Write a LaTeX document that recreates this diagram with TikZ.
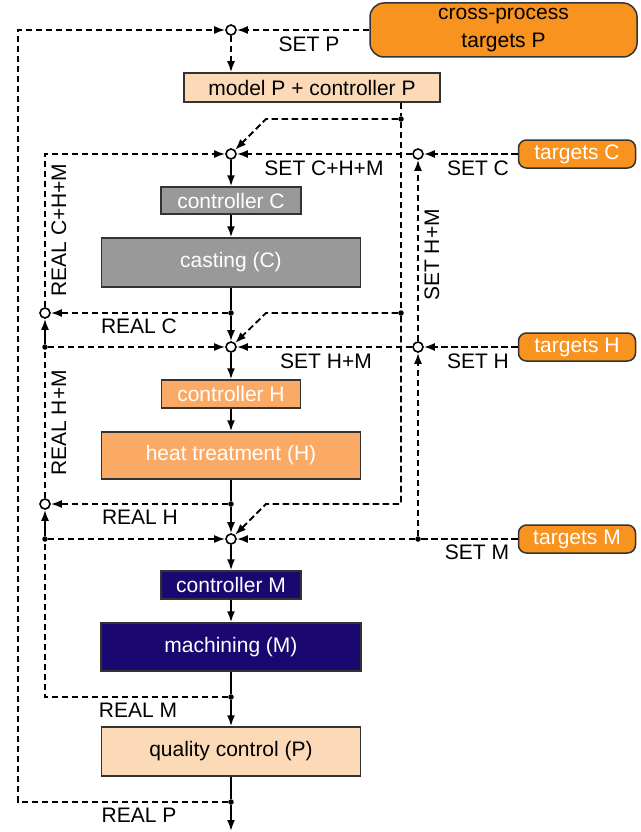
\documentclass[tikz,border=0pt]{standalone}
\usepackage{fontspec}
\setmainfont{Liberation Sans}
\usetikzlibrary{arrows.meta}
\definecolor{tgtorange}{HTML}{F7931E}
\definecolor{peach}{HTML}{FCDAB8}
\definecolor{castgray}{HTML}{999999}
\definecolor{heatorange}{HTML}{FBAA66}
\definecolor{machnavy}{HTML}{1A0870}
\definecolor{edge}{HTML}{333333}

\begin{document}
\begin{tikzpicture}[x=1pt, y=-1pt,
  font=\fontsize{21}{25}\selectfont,
  >={Latex[length=11pt,width=8pt]},
  procbox/.style={draw=edge, line width=1.5pt, inner sep=0pt},
  target/.style={procbox, fill=tgtorange, text=white, rounded corners=8pt,
    minimum width=117, minimum height=28},
  sum/.style={circle, draw=black, fill=white, line width=1.6pt,
    minimum size=10pt, inner sep=0pt},
  joint/.style={circle, fill=black, minimum size=5.5pt, inner sep=0pt},
  sig/.style={line width=1.8pt, dash pattern=on 6.5pt off 3.5pt},
  flow/.style={line width=1.8pt}]
  \useasboundingbox (0,0) rectangle (640,832);

  \node[procbox, fill=tgtorange, rounded corners=14pt, minimum width=267,
    minimum height=54, align=center, font=\fontsize{21}{28}\selectfont]
    (crossP) at (503.5,30) {cross-process\\targets P};
  \node[procbox, fill=peach, minimum width=256, minimum height=29] (modelP) at (312,87.5) {model P + controller P};
  \node[procbox, fill=castgray, text=white, minimum width=140, minimum height=27] (ctrlC) at (231,200.5) {controller C};
  \node[procbox, fill=castgray, text=white, minimum width=259, minimum height=49] (cast) at (231,262.5) {casting (C)};
  \node[procbox, fill=heatorange, text=white, minimum width=139, minimum height=28] (ctrlH) at (231,394) {controller H};
  \node[procbox, fill=heatorange, text=white, minimum width=259, minimum height=47] (heat) at (231,455.5) {heat treatment (H)};
  \node[procbox, fill=machnavy, text=white, minimum width=140, minimum height=28] (ctrlM) at (231,585) {controller M};
  \node[procbox, fill=machnavy, text=white, minimum width=260, minimum height=48] (mach) at (231,647) {machining (M)};
  \node[procbox, fill=peach, minimum width=259, minimum height=49] (qual) at (231,751.5) {quality control (P)};

  \node[target] (tgtsC) at (577,154) {targets C};
  \node[target] (tgtsH) at (577,347) {targets H};
  \node[target] (tgtsM) at (577,539) {targets M};

  \node[sum] (sumP) at (231,30) {};
  \node[sum] (sumC) at (231,154) {};
  \node[sum] (sumH) at (231,347) {};
  \node[sum] (sumM) at (231,539) {};
  \node[sum] (addC) at (418,154) {};
  \node[sum] (addH) at (418,347) {};
  \node[sum] (realC) at (45,313) {};
  \node[sum] (realH) at (45,504) {};

  \node[joint] (jP1) at (401,119) {};
  \node[joint] (jP2) at (401,313) {};
  \node[joint] (jC) at (231,313) {};
  \node[joint] (jH) at (231,504) {};
  \node[joint] (jM) at (231,697) {};
  \node[joint] (jQ) at (231,802) {};
  \node[joint] (jLH) at (45,347) {};
  \node[joint] (jLM) at (45,539) {};
  \node[joint] (jSM) at (418,539) {};

  \coordinate (oTop) at (18,30);
  \coordinate (oBot) at (18,802);
  \coordinate (iTop) at (45,154);
  \coordinate (iBot) at (45,697);
  \coordinate (kP) at (266,119);
  \coordinate (kC) at (266,313);
  \coordinate (kH) at (266,504);
  \coordinate (rH) at (401,504);
  \coordinate (endQ) at (231,831);

  \draw[flow,->] (sumC) -- (ctrlC);
  \draw[flow,->] (ctrlC) -- (cast);
  \draw[flow] (cast) -- (jC);
  \draw[flow,->] (jC) -- (sumH);
  \draw[flow,->] (sumH) -- (ctrlH);
  \draw[flow,->] (ctrlH) -- (heat);
  \draw[flow] (heat) -- (jH);
  \draw[flow,->] (jH) -- (sumM);
  \draw[flow,->] (sumM) -- (ctrlM);
  \draw[flow,->] (ctrlM) -- (mach);
  \draw[flow] (mach) -- (jM);
  \draw[flow,->] (jM) -- (qual);
  \draw[flow] (qual) -- (jQ);
  \draw[flow,->] (jQ) -- (endQ);

  \draw[sig,->] (crossP) -- (sumP);
  \draw[sig,->] (jQ) -- (oBot) -- (oTop) -- (sumP);
  \draw[sig,->] (sumP) -- (sumP |- modelP.north);
  \draw[sig] (modelP.south -| jP1) -- (jP1);
  \draw[sig] (jP1) -- (jP2);
  \draw[sig,->] (jP2) -- (rH) -- (kH) -- (sumM);
  \draw[sig,->] (jP1) -- (kP) -- (sumC);
  \draw[sig,->] (jP2) -- (kC) -- (sumH);

  \draw[sig,->] (jC) -- (realC);
  \draw[sig,->] (realC) -- (iTop) -- (sumC);
  \draw[flow,->] (jLH) -- (realC);
  \draw[sig,->] (jLH) -- (sumH);
  \draw[sig] (realH) -- (jLH);
  \draw[sig,->] (jH) -- (realH);
  \draw[flow,->] (jLM) -- (realH);
  \draw[sig,->] (jLM) -- (sumM);
  \draw[sig] (jM) -- (iBot) -- (jLM);

  \draw[sig,->] (tgtsC) -- (addC);
  \draw[sig,->] (addC) -- (sumC);
  \draw[sig,->] (tgtsH) -- (addH);
  \draw[sig,->] (addH) -- (sumH);
  \draw[sig,->] (addH) -- (addC);
  \draw[sig] (tgtsM) -- (jSM);
  \draw[sig,->] (jSM) -- (sumM);
  \draw[sig,->] (jSM) -- (addH);

  \node (lSetP) at (309,44) {SET P};
  \node (lSetCHM) at (324,168) {SET C+H+M};
  \node (lSetC) at (478,168) {SET C};
  \node (lSetHM) at (326,361) {SET H+M};
  \node (lSetH) at (478,361) {SET H};
  \node (lSetM) at (477,552) {SET M};
  \node (lRealC) at (139,326) {REAL C};
  \node (lRealH) at (140,517) {REAL H};
  \node (lRealM) at (138,710) {REAL M};
  \node (lRealP) at (139,815) {REAL P};
  \node[rotate=90] (lRealCHM) at (59,230) {REAL C+H+M};
  \node[rotate=90] (lRealHM) at (59,423) {REAL H+M};
  \node[rotate=90] (lSetHMv) at (432,255) {SET H+M};
\end{tikzpicture}
\end{document}
